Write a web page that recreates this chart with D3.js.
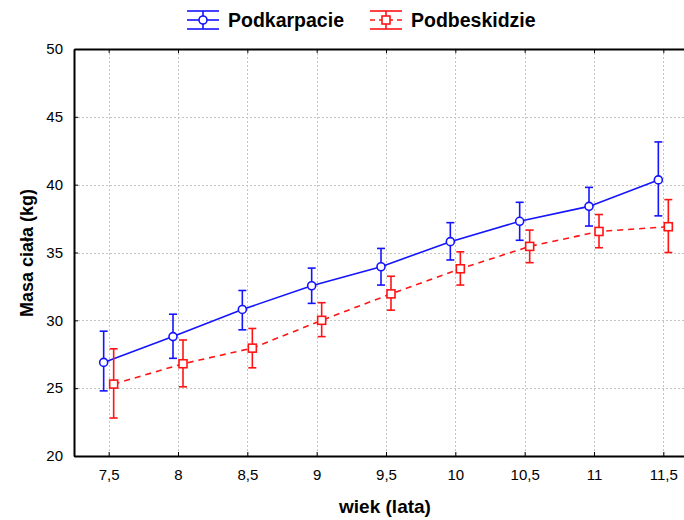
<!DOCTYPE html>
<html>
<head>
<meta charset="utf-8">
<script src="https://cdn.jsdelivr.net/npm/d3@7"></script>
<style>
body{margin:0;background:#fff;}
text{font-family:"Liberation Sans",Arial,sans-serif;}
</style>
</head>
<body>
<svg id="chart" width="684" height="520"></svg>
<script>
// data
var ages = [7.5, 8, 8.5, 9, 9.5, 10, 10.5, 11, 11.5];
var podkarpacie = [26.9, 28.8, 30.8, 32.55, 33.95, 35.8, 37.3, 38.4, 40.35];
var podkarpacieLo = [24.8, 27.2, 29.3, 31.25, 32.6, 34.45, 35.9, 36.95, 37.7];
var podkarpacieHi = [29.2, 30.45, 32.2, 33.85, 35.3, 37.2, 38.7, 39.8, 43.15];
var podbeskidzie = [25.3, 26.8, 27.95, 30.0, 31.95, 33.8, 35.45, 36.55, 36.9];
var podbeskidzieLo = [22.8, 25.1, 26.5, 28.8, 30.75, 32.6, 34.25, 35.35, 35.0];
var podbeskidzieHi = [27.9, 28.55, 29.4, 31.3, 33.25, 35.05, 36.65, 37.8, 38.9];
var xTicks = [7.5, 8, 8.5, 9, 9.5, 10, 10.5, 11, 11.5];
var yTicks = [20, 25, 30, 35, 40, 45, 50];

var svg = d3.select("#chart");
var pLeft = 74, pTop = 49, pRight = 698, pBottom = 456;

var x = d3.scaleLinear().domain([7.25, 11.75]).range([pLeft, pRight]);
var y = d3.scaleLinear().domain([20, 50]).range([pBottom, pTop]);

var fmt = function(d){ return String(d).replace(".", ","); };

// grid
var grid = svg.append("g");
grid.selectAll(".gx").data(xTicks).enter().append("line")
	.attr("x1", function(d){return Math.round(x(d))+0.5;})
	.attr("x2", function(d){return Math.round(x(d))+0.5;})
	.attr("y1", pTop).attr("y2", pBottom)
	.attr("stroke", "#c4c4c4").attr("stroke-dasharray", "2,2");
grid.selectAll(".gy").data(yTicks.slice(1, -1)).enter().append("line")
	.attr("y1", function(d){return Math.round(y(d))+0.5;})
	.attr("y2", function(d){return Math.round(y(d))+0.5;})
	.attr("x1", pLeft).attr("x2", pRight)
	.attr("stroke", "#c4c4c4").attr("stroke-dasharray", "2,2");

// axes (ticks inward)
var xAxis = d3.axisBottom(x).tickValues(xTicks).tickSizeInner(-4).tickSizeOuter(0).tickPadding(13).tickFormat(fmt);
var yAxis = d3.axisLeft(y).tickValues(yTicks).tickSizeInner(-4).tickSizeOuter(0).tickPadding(11);
var xTop = d3.axisTop(x).tickValues(xTicks).tickSizeInner(-4).tickSizeOuter(0).tickFormat("");

function styleAxis(g){
	g.select(".domain").attr("stroke", "#000").attr("stroke-width", 2);
	g.selectAll(".tick line").attr("stroke", "#000").attr("stroke-width", 1);
	g.selectAll(".tick text").attr("font-size", 15).attr("fill", "#000")
		.style("font-family", "'Liberation Sans', Arial, sans-serif");
}
svg.append("g").attr("transform", "translate(0," + pBottom + ")").call(xAxis).call(styleAxis);
svg.append("g").attr("transform", "translate(" + pLeft + ",0)").call(yAxis).call(styleAxis);
svg.append("g").attr("transform", "translate(0," + pTop + ")").call(xTop).call(styleAxis);

// series
var series = [
	{name: "Podkarpacie", mean: podkarpacie, lo: podkarpacieLo, hi: podkarpacieHi, color: "#1414ff", dx: -5, dash: null, shape: "circle"},
	{name: "Podbeskidzie", mean: podbeskidzie, lo: podbeskidzieLo, hi: podbeskidzieHi, color: "#ff1414", dx: 5, dash: "6,5", shape: "square"}
];

series.forEach(function(s){
	var g = svg.append("g");
	var pts = ages.map(function(a, i){ return {a: a, m: s.mean[i], lo: s.lo[i], hi: s.hi[i]}; });
	var px = function(d){ return x(d.a) + s.dx; };
	var line = d3.line().x(px).y(function(d){return y(d.m);});
	g.append("path").datum(pts).attr("d", line).attr("fill", "none")
		.attr("stroke", s.color).attr("stroke-width", 1.6)
		.attr("stroke-dasharray", s.dash);
	// error bars
	g.selectAll(".eb").data(pts).enter().append("line")
		.attr("x1", px).attr("x2", px)
		.attr("y1", function(d){return y(d.lo);}).attr("y2", function(d){return y(d.hi);})
		.attr("stroke", s.color).attr("stroke-width", 1.6);
	["lo", "hi"].forEach(function(k){
		g.selectAll(".cap" + k).data(pts).enter().append("line")
			.attr("x1", function(d){return px(d) - 4;}).attr("x2", function(d){return px(d) + 4;})
			.attr("y1", function(d){return y(d[k]);}).attr("y2", function(d){return y(d[k]);})
			.attr("stroke", s.color).attr("stroke-width", 1.6);
	});
	if (s.shape == "circle") {
		g.selectAll(".mk").data(pts).enter().append("circle")
			.attr("cx", px).attr("cy", function(d){return y(d.m);}).attr("r", 4)
			.attr("fill", "#fff").attr("stroke", s.color).attr("stroke-width", 1.6);
	} else {
		g.selectAll(".mk").data(pts).enter().append("rect")
			.attr("x", function(d){return px(d) - 4;}).attr("y", function(d){return y(d.m) - 4;})
			.attr("width", 8).attr("height", 8)
			.attr("fill", "#fff").attr("stroke", s.color).attr("stroke-width", 1.6);
	}
});

// axis titles
svg.append("text").attr("x", 385).attr("y", 513).attr("text-anchor", "middle")
	.attr("font-size", 19).attr("font-weight", "bold").text("wiek (lata)");
svg.append("text").attr("transform", "translate(33,253) rotate(-90)").attr("text-anchor", "middle")
	.attr("font-size", 18).attr("font-weight", "bold").text("Masa ciała (kg)");

// legend
var legend = [{x: 187, s: series[0]}, {x: 370, s: series[1]}];
legend.forEach(function(l){
	var g = svg.append("g").attr("transform", "translate(" + l.x + ",20)");
	var c = l.s.color;
	g.append("line").attr("x1", 0).attr("x2", 32).attr("y1", 0).attr("y2", 0)
		.attr("stroke", c).attr("stroke-width", 1.6).attr("stroke-dasharray", l.s.dash ? "5,4" : null);
	g.append("line").attr("x1", 16).attr("x2", 16).attr("y1", -9).attr("y2", 9).attr("stroke", c).attr("stroke-width", 1.6);
	g.append("line").attr("x1", 0).attr("x2", 32).attr("y1", -9).attr("y2", -9).attr("stroke", c).attr("stroke-width", 1.6);
	g.append("line").attr("x1", 0).attr("x2", 32).attr("y1", 9).attr("y2", 9).attr("stroke", c).attr("stroke-width", 1.6);
	if (l.s.shape == "circle") {
		g.append("circle").attr("cx", 16).attr("cy", 0).attr("r", 4).attr("fill", "#fff").attr("stroke", c).attr("stroke-width", 1.6);
	} else {
		g.append("rect").attr("x", 12).attr("y", -4).attr("width", 8).attr("height", 8).attr("fill", "#fff").attr("stroke", c).attr("stroke-width", 1.6);
	}
	g.append("text").attr("x", 41).attr("y", 7).attr("font-size", 19.5).attr("font-weight", "bold").text(l.s.name);
});
</script>
</body>
</html>
